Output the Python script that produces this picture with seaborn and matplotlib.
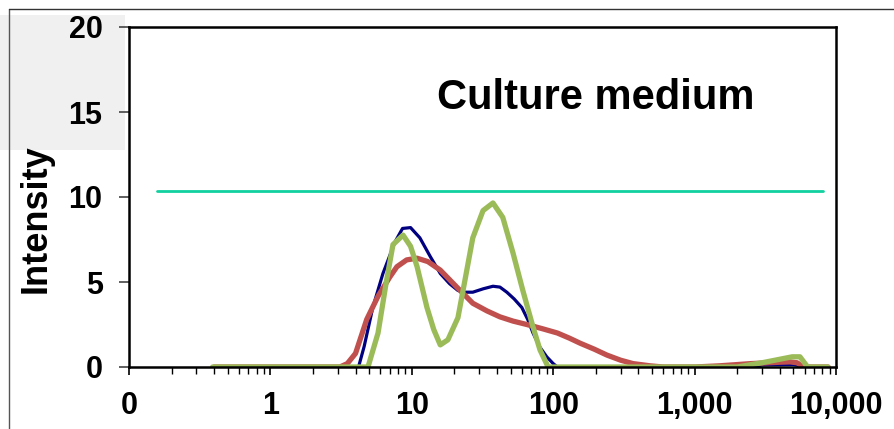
import matplotlib
matplotlib.use("Agg")
import matplotlib.pyplot as plt
import seaborn as sns
import pandas as pd
from matplotlib.lines import Line2D
from matplotlib.patches import Rectangle
from matplotlib.ticker import FixedLocator, FixedFormatter, LogLocator, NullFormatter

# ---- data ----
blue_x = [0.4, 4.2, 4.6, 5.3, 6.25, 7.6, 8.6, 9.8, 11.4, 13.5, 15.9, 18.5, 21.2, 24, 27,
          32, 37.5, 42, 47, 53, 60, 66, 72, 80, 90, 100, 107, 2500, 3000, 5000, 6000, 8800]
blue_y = [0, 0, 1.2, 3.5, 5.5, 7.35, 8.15, 8.2, 7.6, 6.5, 5.5, 4.9, 4.5, 4.4, 4.4,
          4.6, 4.75, 4.7, 4.4, 4.0, 3.5, 2.8, 2.0, 1.2, 0.6, 0.2, 0, 0, 0.12, 0.15, 0, 0]

red_x = [0.4, 3.1, 3.5, 4.0, 4.8, 5.8, 7.0, 7.85, 9.2, 10.9, 13, 15.9, 20.8, 27, 34, 42,
         52, 65, 84, 107, 130, 155, 195, 240, 300, 367, 484, 600, 1000, 1500, 2500,
         4000, 4730, 5300, 5900, 8800]
red_y = [0, 0, 0.2, 0.8, 2.8, 4.2, 5.3, 5.9, 6.3, 6.4, 6.2, 5.7, 4.7, 3.75, 3.3, 2.95,
         2.7, 2.5, 2.25, 2.0, 1.7, 1.4, 1.05, 0.7, 0.4, 0.2, 0.07, 0, 0, 0.07, 0.2,
         0.28, 0.3, 0.25, 0, 0]

green_x = [0.39, 4.9, 5.77, 6.6, 7.36, 8.67, 9.8, 10.9, 12.8, 14.3, 15.9, 18.0, 21.2, 24,
           27, 31.9, 37.5, 44, 52, 61, 72, 80.7, 92, 2000, 3000, 4900, 5560, 6300, 8770]
green_y = [0, 0, 2.0, 5.0, 7.2, 7.76, 7.1, 5.9, 3.5, 2.2, 1.3, 1.6, 2.9, 5.3,
           7.6, 9.2, 9.65, 8.8, 6.7, 4.5, 2.35, 1.0, 0, 0, 0.25, 0.6, 0.6, 0, 0]

ref_x = [0.158, 8090]
ref_y = [10.37, 10.37]

xtick_vals = [0.1, 1, 10, 100, 1000, 10000]
xtick_labels = ["0", "1", "10", "100", "1,000", "10,000"]
ytick_vals = [0, 5, 10, 15, 20]
ytick_labels = ["0", "5", "10", "15", "20"]

title_text = "Culture medium"
ylabel_text = "Intensity"

# ---- figure ----
sns.set_style("white")
plt.rcParams["font.family"] = ["Liberation Sans", "DejaVu Sans"]
plt.rcParams["font.weight"] = "bold"
plt.rcParams["text.color"] = "black"
plt.rcParams["axes.labelcolor"] = "black"
plt.rcParams["xtick.color"] = "black"
plt.rcParams["ytick.color"] = "black"

fig = plt.figure(figsize=(8.94, 4.29), dpi=100)
W, H = 894, 429

# background artifacts of the reference (light gray block, frame lines)
fig.patches.append(Rectangle((0, 1 - 150 / H), 125 / W, (150 - 15) / H,
                             transform=fig.transFigure, facecolor="#f0f0f0",
                             edgecolor="none", zorder=-10))
fig.lines.append(Line2D([8.5 / W, 8.5 / W], [0, 1 - 9 / H], transform=fig.transFigure,
                        color="#555555", lw=1.0, zorder=-5))
fig.lines.append(Line2D([8.5 / W, 1], [1 - 9 / H, 1 - 9 / H], transform=fig.transFigure,
                        color="#333333", lw=1.0, zorder=-5))

ax = fig.add_axes([129 / W, 1 - 367 / H, (836 - 129) / W, (367 - 27) / H])
ax.patch.set_alpha(0)

sns.lineplot(x=ref_x, y=ref_y, ax=ax, color="#12D0A0", lw=2.0, sort=False)
sns.lineplot(x=blue_x, y=blue_y, ax=ax, color="#000080", lw=2.3, sort=False)
sns.lineplot(x=red_x, y=red_y, ax=ax, color="#C0504D", lw=3.8, sort=False)
sns.lineplot(x=green_x, y=green_y, ax=ax, color="#9BBB59", lw=3.8, sort=False)

ax.set_xscale("log")
ax.set_xlim(0.1, 10000)
ax.set_ylim(0, 20)

ax.xaxis.set_major_locator(FixedLocator(xtick_vals))
ax.xaxis.set_major_formatter(FixedFormatter(xtick_labels))
ax.xaxis.set_minor_locator(LogLocator(base=10, subs=[2, 3, 4, 5, 6, 7, 8, 9]))
ax.xaxis.set_minor_formatter(NullFormatter())
ax.yaxis.set_major_locator(FixedLocator(ytick_vals))
ax.yaxis.set_major_formatter(FixedFormatter(ytick_labels))

for s in ax.spines.values():
    s.set_visible(True)
    s.set_color("black")
    s.set_linewidth(1.8)

ax.tick_params(axis="x", which="major", direction="out", length=6, width=1.2,
               color="black", labelcolor="black", labelsize=22, pad=11, bottom=True)
ax.tick_params(axis="x", which="minor", direction="out", length=5, width=1.0,
               color="black", bottom=True)
ax.tick_params(axis="y", which="major", direction="out", length=7, width=1.2,
               color="#444444", labelcolor="black", labelsize=22, pad=12, left=True)
for lab in ax.get_xticklabels() + ax.get_yticklabels():
    lab.set_fontweight("bold")

ax.set_xlabel("")
ax.set_ylabel(ylabel_text, fontsize=26, fontweight="bold", color="black")
ax.yaxis.set_label_coords(-0.107, 0.435)

ax.text(0.66, 0.79, title_text, transform=ax.transAxes, ha="center", va="center",
        fontsize=30, fontweight="bold", color="black")

fig.savefig("out.png", dpi=100)
